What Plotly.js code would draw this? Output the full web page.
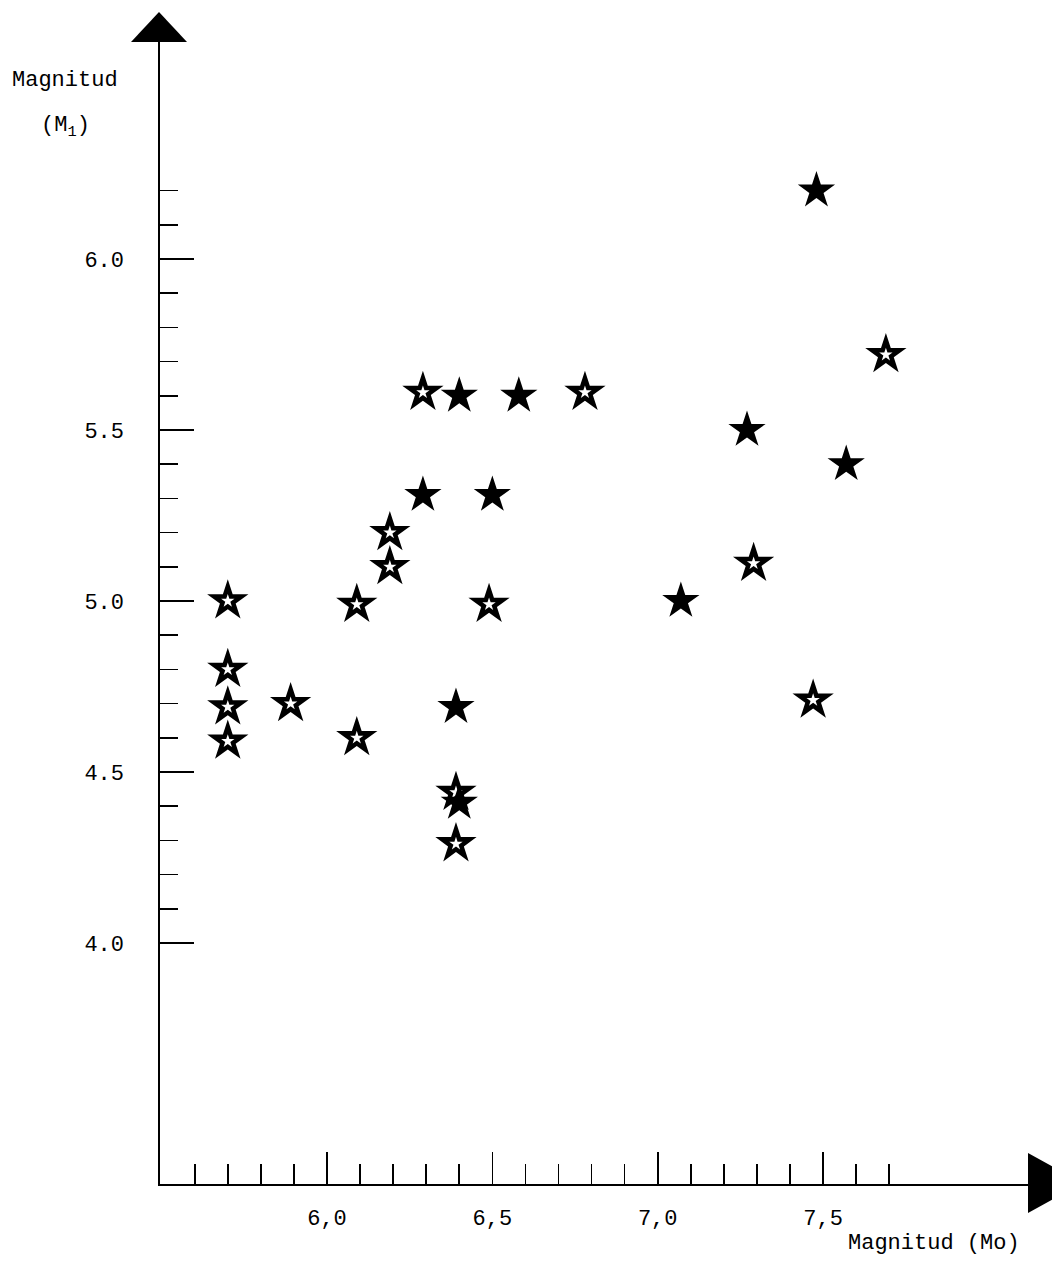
<!DOCTYPE html>
<html>
<head>
<meta charset="utf-8">
<script src="https://cdn.plot.ly/plotly-3.0.1.min.js"></script>
<style>html,body{margin:0;padding:0;background:#fff;}#chart{width:1052px;height:1261px;}</style>
</head>
<body>
<div id="chart"></div>
<script>
// Open stars (Mo, M1)
const openMo = [5.70, 5.70, 5.70, 5.70, 5.89, 6.09, 6.09, 6.19, 6.19, 6.29, 6.49, 6.39, 6.39, 6.78, 7.29, 7.47, 7.69];
const openMl = [5.00, 4.80, 4.69, 4.59, 4.70, 4.99, 4.60, 5.20, 5.10, 5.61, 4.99, 4.44, 4.29, 5.61, 5.11, 4.71, 5.72];
// Filled stars (Mo, M1)
const filledMo = [7.48, 6.40, 6.58, 6.29, 6.50, 6.39, 7.07, 7.27, 7.57, 6.40];
const filledMl = [6.20, 5.60, 5.60, 5.31, 5.31, 4.69, 5.00, 5.50, 5.40, 4.41];

// Axis ticks
const xMajor = [6.0, 6.5, 7.0, 7.5];
const xMajorText = ["6,0", "6,5", "7,0", "7,5"];
const xMinor = [5.6, 5.7, 5.8, 5.9, 6.1, 6.2, 6.3, 6.4, 6.6, 6.7, 6.8, 6.9, 7.1, 7.2, 7.3, 7.4, 7.6, 7.7];
const yMajor = [4.0, 4.5, 5.0, 5.5, 6.0];
const yMajorText = ["4.0", "4.5", "5.0", "5.5", "6.0"];
const yMinor = [4.1, 4.2, 4.3, 4.4, 4.6, 4.7, 4.8, 4.9, 5.1, 5.2, 5.3, 5.4, 5.6, 5.7, 5.8, 5.9, 6.1, 6.2];

const FONT = "Liberation Mono, DejaVu Sans Mono, monospace";

const traces = [
  { x: openMo, y: openMl, type: "scatter", mode: "markers", hoverinfo: "skip",
    marker: { symbol: "star", size: 31, color: "#000", line: { width: 0 } } },
  { x: openMo, y: openMl, type: "scatter", mode: "markers", hoverinfo: "skip",
    marker: { symbol: "star", size: 10, color: "#fff", line: { width: 0 } } },
  { x: filledMo, y: filledMl, type: "scatter", mode: "markers", hoverinfo: "skip",
    marker: { symbol: "star", size: 28, color: "#000", line: { width: 0 } } }
];

const L = 160, R = 1040, T = 30, B = 1184;
const W = R - L, H = B - T;
const px = v => (v - L) / W;
const py = v => (B - v) / H;

const layout = {
  width: 1052, height: 1261,
  margin: { l: L, r: 1052 - R, t: T, b: 1261 - B, pad: 0 },
  paper_bgcolor: "#fff", plot_bgcolor: "#fff",
  showlegend: false, hovermode: false,
  font: { family: FONT, color: "#000", size: 22 },
  xaxis: {
    range: [5.495, 8.156], showgrid: false, zeroline: false,
    showline: true, linecolor: "#000", linewidth: 1.6,
    tickmode: "array", tickvals: xMajor, ticktext: xMajorText,
    ticks: "inside", ticklen: 32, tickwidth: 1.6, tickcolor: "#000",
    ticklabelstandoff: 13,
    tickfont: { family: FONT, size: 22, color: "#000" },
    minor: { tickmode: "array", tickvals: xMinor, ticks: "inside", ticklen: 20, tickwidth: 1.6, tickcolor: "#000", showgrid: false }
  },
  yaxis: {
    range: [3.2953, 6.6696], showgrid: false, zeroline: false,
    showline: true, linecolor: "#000", linewidth: 1.6,
    tickmode: "array", tickvals: yMajor, ticktext: yMajorText,
    ticks: "inside", ticklen: 34, tickwidth: 1.6, tickcolor: "#000",
    ticklabelstandoff: 30,
    tickfont: { family: FONT, size: 22, color: "#000" },
    minor: { tickmode: "array", tickvals: yMinor, ticks: "inside", ticklen: 18, tickwidth: 1.6, tickcolor: "#000", showgrid: false }
  },
  shapes: [
    { type: "path", xref: "paper", yref: "paper",
      path: `M ${px(1028)} ${py(1153)} L ${px(1028)} ${py(1213)} L ${px(1082)} ${py(1183)} Z`,
      fillcolor: "#000", line: { width: 0 } },
    { type: "path", xref: "paper", yref: "paper",
      path: `M ${px(131)} ${py(42)} L ${px(187)} ${py(42)} L ${px(159)} ${py(12)} Z`,
      fillcolor: "#000", line: { width: 0 } }
  ],
  annotations: [
    { text: "Magnitud", xref: "paper", yref: "paper", x: px(65), y: py(81),
      xanchor: "center", yanchor: "middle", showarrow: false,
      font: { family: FONT, size: 22, color: "#000" } },
    { text: "(M<sub>1</sub>)", xref: "paper", yref: "paper", x: px(65), y: py(127),
      xanchor: "center", yanchor: "middle", showarrow: false,
      font: { family: FONT, size: 22, color: "#000" } },
    { text: "Magnitud (Mo)", xref: "paper", yref: "paper", x: px(934), y: py(1243),
      xanchor: "center", yanchor: "middle", showarrow: false,
      font: { family: FONT, size: 22, color: "#000" } }
  ]
};

Plotly.newPlot("chart", traces, layout, { staticPlot: true, displayModeBar: false });
</script>
</body>
</html>
